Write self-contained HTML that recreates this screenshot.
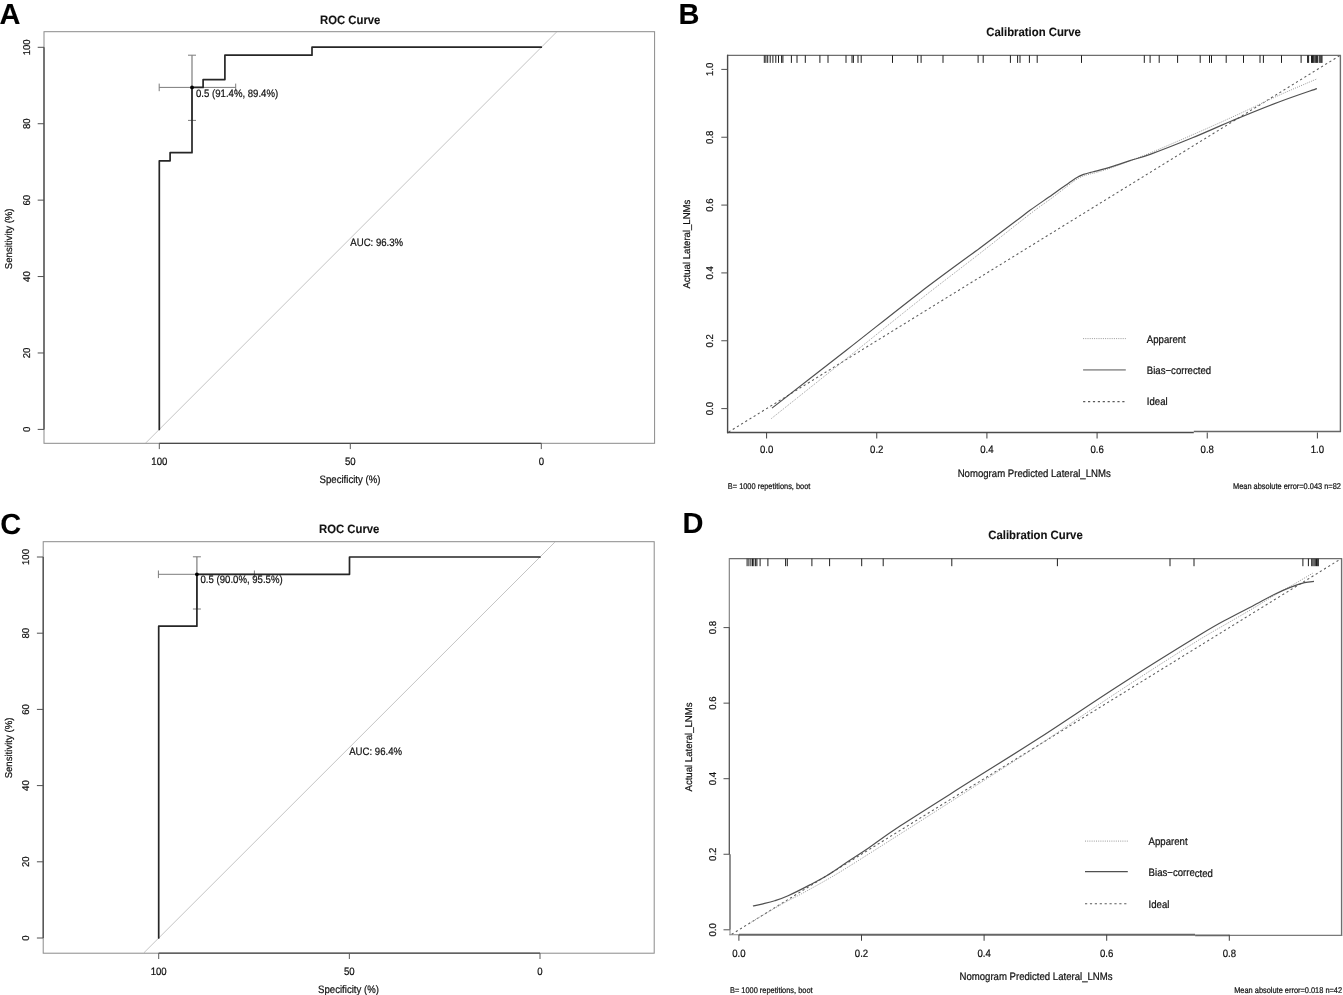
<!DOCTYPE html><html><head><meta charset="utf-8"><title>ROC and Calibration Curves</title>
<style>html,body{margin:0;padding:0;background:#fff;width:1343px;height:995px;overflow:hidden}svg{display:block;font-family:"Liberation Sans", sans-serif;text-rendering:geometricPrecision;filter:grayscale(1)}</style></head><body>
<svg width="1343" height="995" viewBox="0 0 1343 995">
<rect width="1343" height="995" fill="#fff"/>
<line x1="145.9" y1="442.8" x2="556.4" y2="32.2" stroke="#c4c4c4" stroke-width="1"/>
<rect x="44" y="31.7" width="610.6" height="411.6" fill="none" stroke="#8a8a8a" stroke-width="1"/>
<line x1="159.3" y1="443.3" x2="541.3" y2="443.3" stroke="#4a4a4a" stroke-width="1.3" />
<line x1="44" y1="429.4" x2="44" y2="47.3" stroke="#4a4a4a" stroke-width="1.3" />
<line x1="37.7" y1="429.4" x2="44" y2="429.4" stroke="#505050" stroke-width="1" />
<text font-size="9.89" text-anchor="middle" font-weight="normal" fill="#111" stroke="#111" stroke-width="0.22" transform="translate(29.71 429.4) rotate(-90) scale(0.9709 1)" >0</text>
<line x1="37.7" y1="352.98" x2="44" y2="352.98" stroke="#505050" stroke-width="1" />
<text font-size="9.89" text-anchor="middle" font-weight="normal" fill="#111" stroke="#111" stroke-width="0.22" transform="translate(29.71 352.98) rotate(-90) scale(0.9709 1)" >20</text>
<line x1="37.7" y1="276.56" x2="44" y2="276.56" stroke="#505050" stroke-width="1" />
<text font-size="9.89" text-anchor="middle" font-weight="normal" fill="#111" stroke="#111" stroke-width="0.22" transform="translate(29.71 276.56) rotate(-90) scale(0.9709 1)" >40</text>
<line x1="37.7" y1="200.14" x2="44" y2="200.14" stroke="#505050" stroke-width="1" />
<text font-size="9.89" text-anchor="middle" font-weight="normal" fill="#111" stroke="#111" stroke-width="0.22" transform="translate(29.71 200.14) rotate(-90) scale(0.9709 1)" >60</text>
<line x1="37.7" y1="123.72" x2="44" y2="123.72" stroke="#505050" stroke-width="1" />
<text font-size="9.89" text-anchor="middle" font-weight="normal" fill="#111" stroke="#111" stroke-width="0.22" transform="translate(29.71 123.72) rotate(-90) scale(0.9709 1)" >80</text>
<line x1="37.7" y1="47.3" x2="44" y2="47.3" stroke="#505050" stroke-width="1" />
<text font-size="9.89" text-anchor="middle" font-weight="normal" fill="#111" stroke="#111" stroke-width="0.22" transform="translate(29.71 47.3) rotate(-90) scale(0.9709 1)" >100</text>
<line x1="159.3" y1="443.3" x2="159.3" y2="449.1" stroke="#5a5a5a" stroke-width="1" />
<text font-size="10.75" text-anchor="middle" font-weight="normal" fill="#111" stroke="#111" stroke-width="0.22" transform="translate(159.3 464.5) scale(0.8929 1)" >100</text>
<line x1="350.3" y1="443.3" x2="350.3" y2="449.1" stroke="#5a5a5a" stroke-width="1" />
<text font-size="10.75" text-anchor="middle" font-weight="normal" fill="#111" stroke="#111" stroke-width="0.22" transform="translate(350.3 464.5) scale(0.8929 1)" >50</text>
<line x1="541.3" y1="443.3" x2="541.3" y2="449.1" stroke="#5a5a5a" stroke-width="1" />
<text font-size="10.75" text-anchor="middle" font-weight="normal" fill="#111" stroke="#111" stroke-width="0.22" transform="translate(541.3 464.5) scale(0.8929 1)" >0</text>
<text font-size="10.75" text-anchor="middle" font-weight="normal" fill="#111" stroke="#111" stroke-width="0.22" transform="translate(350 483.2) scale(0.8929 1)" >Specificity (%)</text>
<text font-size="9.89" text-anchor="middle" font-weight="normal" fill="#111" stroke="#111" stroke-width="0.22" transform="translate(12.4 238.8) rotate(-90) scale(0.9709 1)" >Sensitivity (%)</text>
<text font-size="12.14" text-anchor="middle" font-weight="bold" fill="#111" stroke="#111" stroke-width="0.1" transform="translate(350.2 23.7) scale(0.9346 1)" >ROC Curve</text>
<text font-size="10.75" text-anchor="start" font-weight="normal" fill="#111" stroke="#111" stroke-width="0.22" transform="translate(350.3 245.6) scale(0.8929 1)" >AUC: 96.3%</text>
<line x1="159.2" y1="87.4" x2="235.7" y2="87.4" stroke="#7c7c7c" stroke-width="1" />
<line x1="159.2" y1="83.6" x2="159.2" y2="91.2" stroke="#7c7c7c" stroke-width="1" />
<line x1="235.7" y1="83.6" x2="235.7" y2="91.2" stroke="#7c7c7c" stroke-width="1" />
<line x1="192" y1="55.2" x2="192" y2="120.4" stroke="#7c7c7c" stroke-width="1.2" />
<line x1="188" y1="55.2" x2="196" y2="55.2" stroke="#7c7c7c" stroke-width="1" />
<line x1="188" y1="120.4" x2="196" y2="120.4" stroke="#7c7c7c" stroke-width="1" />
<polyline points="159.3,429.4 159.3,160.8 170.1,160.8 170.1,152.7 192,152.7 192,87.4 203.1,87.4 203.1,79.6 224.9,79.6 224.9,55.2 312,55.2 312,47.2 541.3,47.2" fill="none" stroke="#262626" stroke-width="1.7" stroke-linejoin="round" stroke-linecap="round"/>
<circle cx="192" cy="87.4" r="1.9" fill="#000"/>
<text font-size="10.75" text-anchor="start" font-weight="normal" fill="#111" stroke="#111" stroke-width="0.22" transform="translate(196 96.7) scale(0.8929 1)" >0.5 (91.4%, 89.4%)</text>
<line x1="143.99" y1="952.7" x2="554.81" y2="542.2" stroke="#c4c4c4" stroke-width="1"/>
<rect x="43.2" y="541.7" width="611" height="411.5" fill="none" stroke="#8a8a8a" stroke-width="1"/>
<line x1="158.7" y1="953.2" x2="540" y2="953.2" stroke="#4a4a4a" stroke-width="1.3" />
<line x1="43.2" y1="938" x2="43.2" y2="557" stroke="#4a4a4a" stroke-width="1.3" />
<line x1="36.9" y1="938" x2="43.2" y2="938" stroke="#505050" stroke-width="1" />
<text font-size="9.89" text-anchor="middle" font-weight="normal" fill="#111" stroke="#111" stroke-width="0.22" transform="translate(28.81 938) rotate(-90) scale(0.9709 1)" >0</text>
<line x1="36.9" y1="861.8" x2="43.2" y2="861.8" stroke="#505050" stroke-width="1" />
<text font-size="9.89" text-anchor="middle" font-weight="normal" fill="#111" stroke="#111" stroke-width="0.22" transform="translate(28.81 861.8) rotate(-90) scale(0.9709 1)" >20</text>
<line x1="36.9" y1="785.6" x2="43.2" y2="785.6" stroke="#505050" stroke-width="1" />
<text font-size="9.89" text-anchor="middle" font-weight="normal" fill="#111" stroke="#111" stroke-width="0.22" transform="translate(28.81 785.6) rotate(-90) scale(0.9709 1)" >40</text>
<line x1="36.9" y1="709.4" x2="43.2" y2="709.4" stroke="#505050" stroke-width="1" />
<text font-size="9.89" text-anchor="middle" font-weight="normal" fill="#111" stroke="#111" stroke-width="0.22" transform="translate(28.81 709.4) rotate(-90) scale(0.9709 1)" >60</text>
<line x1="36.9" y1="633.2" x2="43.2" y2="633.2" stroke="#505050" stroke-width="1" />
<text font-size="9.89" text-anchor="middle" font-weight="normal" fill="#111" stroke="#111" stroke-width="0.22" transform="translate(28.81 633.2) rotate(-90) scale(0.9709 1)" >80</text>
<line x1="36.9" y1="557" x2="43.2" y2="557" stroke="#505050" stroke-width="1" />
<text font-size="9.89" text-anchor="middle" font-weight="normal" fill="#111" stroke="#111" stroke-width="0.22" transform="translate(28.81 557) rotate(-90) scale(0.9709 1)" >100</text>
<line x1="158.7" y1="953.2" x2="158.7" y2="959" stroke="#5a5a5a" stroke-width="1" />
<text font-size="10.75" text-anchor="middle" font-weight="normal" fill="#111" stroke="#111" stroke-width="0.22" transform="translate(158.7 974.7) scale(0.8929 1)" >100</text>
<line x1="349.35" y1="953.2" x2="349.35" y2="959" stroke="#5a5a5a" stroke-width="1" />
<text font-size="10.75" text-anchor="middle" font-weight="normal" fill="#111" stroke="#111" stroke-width="0.22" transform="translate(349.35 974.7) scale(0.8929 1)" >50</text>
<line x1="540" y1="953.2" x2="540" y2="959" stroke="#5a5a5a" stroke-width="1" />
<text font-size="10.75" text-anchor="middle" font-weight="normal" fill="#111" stroke="#111" stroke-width="0.22" transform="translate(540 974.7) scale(0.8929 1)" >0</text>
<text font-size="10.75" text-anchor="middle" font-weight="normal" fill="#111" stroke="#111" stroke-width="0.22" transform="translate(348.5 993.3) scale(0.8929 1)" >Specificity (%)</text>
<text font-size="9.89" text-anchor="middle" font-weight="normal" fill="#111" stroke="#111" stroke-width="0.22" transform="translate(11.6 748) rotate(-90) scale(0.9709 1)" >Sensitivity (%)</text>
<text font-size="12.14" text-anchor="middle" font-weight="bold" fill="#111" stroke="#111" stroke-width="0.1" transform="translate(349.2 533.4) scale(0.9346 1)" >ROC Curve</text>
<text font-size="10.75" text-anchor="start" font-weight="normal" fill="#111" stroke="#111" stroke-width="0.22" transform="translate(349.2 754.8) scale(0.8929 1)" >AUC: 96.4%</text>
<line x1="158.4" y1="574.3" x2="254.4" y2="574.3" stroke="#7c7c7c" stroke-width="1" />
<line x1="158.4" y1="570.5" x2="158.4" y2="578.1" stroke="#7c7c7c" stroke-width="1" />
<line x1="254.4" y1="570.5" x2="254.4" y2="578.1" stroke="#7c7c7c" stroke-width="1" />
<line x1="196.9" y1="556.8" x2="196.9" y2="609" stroke="#7c7c7c" stroke-width="1.2" />
<line x1="192.9" y1="556.8" x2="200.9" y2="556.8" stroke="#7c7c7c" stroke-width="1" />
<line x1="192.9" y1="609" x2="200.9" y2="609" stroke="#7c7c7c" stroke-width="1" />
<polyline points="158.7,938 158.7,626.2 196.9,626.2 196.9,574.3 349.5,574.3 349.5,557 540,557" fill="none" stroke="#262626" stroke-width="1.7" stroke-linejoin="round" stroke-linecap="round"/>
<circle cx="196.9" cy="574.3" r="1.9" fill="#000"/>
<text font-size="10.75" text-anchor="start" font-weight="normal" fill="#111" stroke="#111" stroke-width="0.22" transform="translate(200.5 583.3) scale(0.8929 1)" >0.5 (90.0%, 95.5%)</text>
<line x1="727.1" y1="55.3" x2="1340.9" y2="55.3" stroke="#6e6e6e" stroke-width="1.2" />
<line x1="1340.4" y1="55.3" x2="1340.4" y2="432.1" stroke="#6e6e6e" stroke-width="1.4" />
<line x1="727.6" y1="54.8" x2="727.6" y2="433.2" stroke="#4a4a4a" stroke-width="1.4" />
<line x1="727" y1="432.6" x2="1193.8" y2="432.6" stroke="#4a4a4a" stroke-width="1.5" />
<line x1="1193.8" y1="431.6" x2="1341" y2="431.6" stroke="#666" stroke-width="1.5" />
<line x1="721.3" y1="408.6" x2="727.6" y2="408.6" stroke="#505050" stroke-width="1" />
<text font-size="9.89" text-anchor="middle" font-weight="normal" fill="#111" stroke="#111" stroke-width="0.22" transform="translate(713.41 408.6) rotate(-90) scale(0.9709 1)" >0.0</text>
<line x1="721.3" y1="340.76" x2="727.6" y2="340.76" stroke="#505050" stroke-width="1" />
<text font-size="9.89" text-anchor="middle" font-weight="normal" fill="#111" stroke="#111" stroke-width="0.22" transform="translate(713.41 340.76) rotate(-90) scale(0.9709 1)" >0.2</text>
<line x1="721.3" y1="272.92" x2="727.6" y2="272.92" stroke="#505050" stroke-width="1" />
<text font-size="9.89" text-anchor="middle" font-weight="normal" fill="#111" stroke="#111" stroke-width="0.22" transform="translate(713.41 272.92) rotate(-90) scale(0.9709 1)" >0.4</text>
<line x1="721.3" y1="205.08" x2="727.6" y2="205.08" stroke="#505050" stroke-width="1" />
<text font-size="9.89" text-anchor="middle" font-weight="normal" fill="#111" stroke="#111" stroke-width="0.22" transform="translate(713.41 205.08) rotate(-90) scale(0.9709 1)" >0.6</text>
<line x1="721.3" y1="137.24" x2="727.6" y2="137.24" stroke="#505050" stroke-width="1" />
<text font-size="9.89" text-anchor="middle" font-weight="normal" fill="#111" stroke="#111" stroke-width="0.22" transform="translate(713.41 137.24) rotate(-90) scale(0.9709 1)" >0.8</text>
<line x1="721.3" y1="69.4" x2="727.6" y2="69.4" stroke="#505050" stroke-width="1" />
<text font-size="9.89" text-anchor="middle" font-weight="normal" fill="#111" stroke="#111" stroke-width="0.22" transform="translate(713.41 69.4) rotate(-90) scale(0.9709 1)" >1.0</text>
<line x1="766.6" y1="432.5" x2="766.6" y2="438.5" stroke="#404040" stroke-width="1" />
<text font-size="10.75" text-anchor="middle" font-weight="normal" fill="#111" stroke="#111" stroke-width="0.22" transform="translate(766.6 453) scale(0.8929 1)" >0.0</text>
<line x1="876.76" y1="432.5" x2="876.76" y2="438.5" stroke="#404040" stroke-width="1" />
<text font-size="10.75" text-anchor="middle" font-weight="normal" fill="#111" stroke="#111" stroke-width="0.22" transform="translate(876.76 453) scale(0.8929 1)" >0.2</text>
<line x1="986.92" y1="432.5" x2="986.92" y2="438.5" stroke="#404040" stroke-width="1" />
<text font-size="10.75" text-anchor="middle" font-weight="normal" fill="#111" stroke="#111" stroke-width="0.22" transform="translate(986.92 453) scale(0.8929 1)" >0.4</text>
<line x1="1097.08" y1="432.5" x2="1097.08" y2="438.5" stroke="#404040" stroke-width="1" />
<text font-size="10.75" text-anchor="middle" font-weight="normal" fill="#111" stroke="#111" stroke-width="0.22" transform="translate(1097.08 453) scale(0.8929 1)" >0.6</text>
<line x1="1207.24" y1="432.5" x2="1207.24" y2="438.5" stroke="#404040" stroke-width="1" />
<text font-size="10.75" text-anchor="middle" font-weight="normal" fill="#111" stroke="#111" stroke-width="0.22" transform="translate(1207.24 453) scale(0.8929 1)" >0.8</text>
<line x1="1317.4" y1="432.5" x2="1317.4" y2="438.5" stroke="#404040" stroke-width="1" />
<text font-size="10.75" text-anchor="middle" font-weight="normal" fill="#111" stroke="#111" stroke-width="0.22" transform="translate(1317.4 453) scale(0.8929 1)" >1.0</text>
<text font-size="10.75" text-anchor="middle" font-weight="normal" fill="#111" stroke="#111" stroke-width="0.22" transform="translate(1034.2 476.6) scale(0.8929 1)" >Nomogram Predicted Lateral_LNMs</text>
<text font-size="9.89" text-anchor="middle" font-weight="normal" fill="#111" stroke="#111" stroke-width="0.22" transform="translate(689.6 244.1) rotate(-90) scale(0.9709 1)" >Actual Lateral_LNMs</text>
<text font-size="12.14" text-anchor="middle" font-weight="bold" fill="#111" stroke="#111" stroke-width="0.1" transform="translate(1033.6 35.5) scale(0.9346 1)" >Calibration Curve</text>
<text font-size="8.31" text-anchor="start" font-weight="normal" fill="#111" stroke="#111" stroke-width="0.22" transform="translate(727.8 488.5) scale(0.8929 1)" >B= 1000 repetitions, boot</text>
<text font-size="8.31" text-anchor="end" font-weight="normal" fill="#111" stroke="#111" stroke-width="0.22" transform="translate(1340.9 488.5) scale(0.8929 1)" >Mean absolute error=0.043 n=82</text>
<line x1="764.3" y1="55.3" x2="764.3" y2="62.9" stroke="#1e1e1e" stroke-width="1.0" />
<line x1="765.9" y1="55.3" x2="765.9" y2="62.9" stroke="#1e1e1e" stroke-width="1.0" />
<line x1="767.7" y1="55.3" x2="767.7" y2="62.9" stroke="#1e1e1e" stroke-width="1.0" />
<line x1="770.2" y1="55.3" x2="770.2" y2="62.9" stroke="#1e1e1e" stroke-width="1.0" />
<line x1="772.9" y1="55.3" x2="772.9" y2="62.9" stroke="#1e1e1e" stroke-width="1.0" />
<line x1="775.8" y1="55.3" x2="775.8" y2="62.9" stroke="#1e1e1e" stroke-width="1.0" />
<line x1="778.5" y1="55.3" x2="778.5" y2="62.9" stroke="#1e1e1e" stroke-width="1.0" />
<line x1="781.6" y1="55.3" x2="781.6" y2="62.9" stroke="#1e1e1e" stroke-width="1.0" />
<line x1="782.9" y1="55.3" x2="782.9" y2="62.9" stroke="#1e1e1e" stroke-width="1.0" />
<line x1="791.4" y1="55.3" x2="791.4" y2="62.9" stroke="#1e1e1e" stroke-width="1.0" />
<line x1="797" y1="55.3" x2="797" y2="62.9" stroke="#1e1e1e" stroke-width="1.0" />
<line x1="805.3" y1="55.3" x2="805.3" y2="62.9" stroke="#1e1e1e" stroke-width="1.0" />
<line x1="819.9" y1="55.3" x2="819.9" y2="62.9" stroke="#1e1e1e" stroke-width="1.0" />
<line x1="828" y1="55.3" x2="828" y2="62.9" stroke="#1e1e1e" stroke-width="1.0" />
<line x1="846" y1="55.3" x2="846" y2="62.9" stroke="#1e1e1e" stroke-width="1.0" />
<line x1="852" y1="55.3" x2="852" y2="62.9" stroke="#1e1e1e" stroke-width="1.0" />
<line x1="853.4" y1="55.3" x2="853.4" y2="62.9" stroke="#1e1e1e" stroke-width="1.0" />
<line x1="858" y1="55.3" x2="858" y2="62.9" stroke="#1e1e1e" stroke-width="1.0" />
<line x1="861.2" y1="55.3" x2="861.2" y2="62.9" stroke="#1e1e1e" stroke-width="1.0" />
<line x1="892.5" y1="55.3" x2="892.5" y2="62.9" stroke="#1e1e1e" stroke-width="1.0" />
<line x1="917.7" y1="55.3" x2="917.7" y2="62.9" stroke="#1e1e1e" stroke-width="1.0" />
<line x1="921.1" y1="55.3" x2="921.1" y2="62.9" stroke="#1e1e1e" stroke-width="1.0" />
<line x1="943" y1="55.3" x2="943" y2="62.9" stroke="#1e1e1e" stroke-width="1.0" />
<line x1="978.1" y1="55.3" x2="978.1" y2="62.9" stroke="#1e1e1e" stroke-width="1.0" />
<line x1="983.2" y1="55.3" x2="983.2" y2="62.9" stroke="#1e1e1e" stroke-width="1.0" />
<line x1="1010.4" y1="55.3" x2="1010.4" y2="62.9" stroke="#1e1e1e" stroke-width="1.0" />
<line x1="1017.6" y1="55.3" x2="1017.6" y2="62.9" stroke="#1e1e1e" stroke-width="1.0" />
<line x1="1020" y1="55.3" x2="1020" y2="62.9" stroke="#1e1e1e" stroke-width="1.0" />
<line x1="1029.4" y1="55.3" x2="1029.4" y2="62.9" stroke="#1e1e1e" stroke-width="1.0" />
<line x1="1037.2" y1="55.3" x2="1037.2" y2="62.9" stroke="#1e1e1e" stroke-width="1.0" />
<line x1="1081.5" y1="55.3" x2="1081.5" y2="62.9" stroke="#1e1e1e" stroke-width="1.0" />
<line x1="1144.3" y1="55.3" x2="1144.3" y2="62.9" stroke="#1e1e1e" stroke-width="1.0" />
<line x1="1150.1" y1="55.3" x2="1150.1" y2="62.9" stroke="#1e1e1e" stroke-width="1.0" />
<line x1="1159.2" y1="55.3" x2="1159.2" y2="62.9" stroke="#1e1e1e" stroke-width="1.0" />
<line x1="1177.6" y1="55.3" x2="1177.6" y2="62.9" stroke="#1e1e1e" stroke-width="1.0" />
<line x1="1200.2" y1="55.3" x2="1200.2" y2="62.9" stroke="#1e1e1e" stroke-width="1.0" />
<line x1="1209.5" y1="55.3" x2="1209.5" y2="62.9" stroke="#1e1e1e" stroke-width="1.0" />
<line x1="1211.5" y1="55.3" x2="1211.5" y2="62.9" stroke="#1e1e1e" stroke-width="1.0" />
<line x1="1226.2" y1="55.3" x2="1226.2" y2="62.9" stroke="#1e1e1e" stroke-width="1.0" />
<line x1="1243.5" y1="55.3" x2="1243.5" y2="62.9" stroke="#1e1e1e" stroke-width="1.0" />
<line x1="1260" y1="55.3" x2="1260" y2="62.9" stroke="#1e1e1e" stroke-width="1.0" />
<line x1="1263.4" y1="55.3" x2="1263.4" y2="62.9" stroke="#1e1e1e" stroke-width="1.0" />
<line x1="1281.5" y1="55.3" x2="1281.5" y2="62.9" stroke="#1e1e1e" stroke-width="1.0" />
<line x1="1301.1" y1="55.3" x2="1301.1" y2="62.9" stroke="#1e1e1e" stroke-width="1.0" />
<line x1="1307.6" y1="55.3" x2="1307.6" y2="62.9" stroke="#1e1e1e" stroke-width="1.0" />
<line x1="1308.6" y1="55.3" x2="1308.6" y2="62.9" stroke="#1e1e1e" stroke-width="1.0" />
<line x1="1311.5" y1="55.3" x2="1311.5" y2="62.9" stroke="#1e1e1e" stroke-width="1.0" />
<line x1="1312.5" y1="55.3" x2="1312.5" y2="62.9" stroke="#1e1e1e" stroke-width="1.0" />
<line x1="1313.3" y1="55.3" x2="1313.3" y2="62.9" stroke="#1e1e1e" stroke-width="1.0" />
<line x1="1314.2" y1="55.3" x2="1314.2" y2="62.9" stroke="#1e1e1e" stroke-width="1.0" />
<line x1="1315.7" y1="55.3" x2="1315.7" y2="62.9" stroke="#1e1e1e" stroke-width="1.0" />
<line x1="1316.6" y1="55.3" x2="1316.6" y2="62.9" stroke="#1e1e1e" stroke-width="1.0" />
<line x1="1317.4" y1="55.3" x2="1317.4" y2="62.9" stroke="#1e1e1e" stroke-width="1.0" />
<line x1="1319.2" y1="55.3" x2="1319.2" y2="62.9" stroke="#1e1e1e" stroke-width="1.0" />
<line x1="1320.2" y1="55.3" x2="1320.2" y2="62.9" stroke="#1e1e1e" stroke-width="1.0" />
<line x1="1321.2" y1="55.3" x2="1321.2" y2="62.9" stroke="#1e1e1e" stroke-width="1.0" />
<line x1="1322" y1="55.3" x2="1322" y2="62.9" stroke="#1e1e1e" stroke-width="1.0" />
<line x1="728.6" y1="432" x2="1339.48" y2="55.8" stroke="#5a5a5a" stroke-width="1.05" stroke-dasharray="2.2 2.7"/>
<path d="M771.3,418.6 C783.75,408.67 821.22,378.82 846,359 C870.78,339.18 897.67,317.32 920,299.7 C942.33,282.08 961.67,267.58 980,253.3 C998.33,239.02 1017.95,223.27 1030,214 C1042.05,204.73 1045.35,202.9 1052.3,197.7 C1059.25,192.5 1067.25,186.08 1071.7,182.8 C1076.15,179.52 1077.02,179.15 1079,178 C1080.98,176.85 1081.77,176.57 1083.6,175.9 C1085.43,175.23 1087.77,174.6 1090,174 C1092.23,173.4 1093.35,173.37 1097,172.3 C1100.65,171.23 1106.4,169.52 1111.9,167.6 C1117.4,165.68 1123.52,163.28 1130,160.8 C1136.48,158.32 1140.38,157.03 1150.8,152.7 C1161.22,148.37 1178.6,140.88 1192.5,134.8 C1206.4,128.72 1219.8,122.78 1234.2,116.2 C1248.6,109.62 1265.12,101.52 1278.9,95.3 C1292.68,89.08 1310.57,81.63 1316.9,78.9" fill="none" stroke="#9a9a9a" stroke-width="1.0" stroke-dasharray="1 1.2"/>
<path d="M772,408.1 C784.33,398.5 821.33,369.78 846,350.5 C870.67,331.22 897.67,309.5 920,292.4 C942.33,275.3 963.97,259.83 980,247.9 C996.03,235.97 1007.87,227.07 1016.2,220.8 C1024.53,214.53 1023.98,214.65 1030,210.3 C1036.02,205.95 1045.35,199.6 1052.3,194.7 C1059.25,189.8 1067.25,183.95 1071.7,180.9 C1076.15,177.85 1077.02,177.48 1079,176.4 C1080.98,175.32 1081.77,175.03 1083.6,174.4 C1085.43,173.77 1087.77,173.18 1090,172.6 C1092.23,172.02 1093.35,171.9 1097,170.9 C1100.65,169.9 1106.4,168.32 1111.9,166.6 C1117.4,164.88 1123.52,162.68 1130,160.6 C1136.48,158.52 1140.38,157.9 1150.8,154.1 C1161.22,150.3 1178.6,143.5 1192.5,137.8 C1206.4,132.1 1219.8,125.87 1234.2,119.9 C1248.6,113.93 1265.12,107.22 1278.9,102 C1292.68,96.78 1310.57,90.83 1316.9,88.6" fill="none" stroke="#505050" stroke-width="1.2" />
<line x1="1083.1" y1="338.6" x2="1125.8" y2="338.6" stroke="#9a9a9a" stroke-width="1.0" stroke-dasharray="1 1.2"/>
<line x1="1083.1" y1="369.9" x2="1125.8" y2="369.9" stroke="#9d9d9d" stroke-width="1.6" />
<line x1="1083.1" y1="401.6" x2="1125.8" y2="401.6" stroke="#5a5a5a" stroke-width="1.05" stroke-dasharray="2.2 2.7"/>
<text font-size="10.75" text-anchor="start" font-weight="normal" fill="#111" stroke="#111" stroke-width="0.22" transform="translate(1146.8 342.71) scale(0.8929 1)" >Apparent</text>
<text font-size="10.75" text-anchor="start" font-weight="normal" fill="#111" stroke="#111" stroke-width="0.22" transform="translate(1146.8 374.01) scale(0.8929 1)" >Bias−corre<tspan dy="-0.5">cted</tspan></text>
<text font-size="10.75" text-anchor="start" font-weight="normal" fill="#111" stroke="#111" stroke-width="0.22" transform="translate(1146.8 405.41) scale(0.8929 1)" >Ideal</text>
<line x1="729.3" y1="558.6" x2="1342.1" y2="558.6" stroke="#6e6e6e" stroke-width="1.2" />
<line x1="1341.6" y1="558.6" x2="1341.6" y2="935.9" stroke="#6e6e6e" stroke-width="1.4" />
<line x1="729.3" y1="558.1" x2="729.3" y2="627.6" stroke="#7a7a7a" stroke-width="1.1" />
<line x1="729.3" y1="627.6" x2="729.3" y2="854.3" stroke="#555" stroke-width="1.3" />
<line x1="730" y1="854.3" x2="730" y2="929.8" stroke="#555" stroke-width="1.3" />
<line x1="730" y1="929.8" x2="730" y2="935.2" stroke="#8a8a8a" stroke-width="1.0" />
<line x1="729.3" y1="934.75" x2="738.9" y2="934.75" stroke="#8a8a8a" stroke-width="1.0" />
<line x1="738.9" y1="934.8" x2="1195.1" y2="934.8" stroke="#666" stroke-width="1.9" />
<line x1="1195.1" y1="935.4" x2="1229.3" y2="935.4" stroke="#666" stroke-width="1.9" />
<line x1="1229.3" y1="935.4" x2="1342.1" y2="935.4" stroke="#7a7a7a" stroke-width="1.2" />
<line x1="723.5" y1="929.8" x2="729.8" y2="929.8" stroke="#505050" stroke-width="1" />
<text font-size="9.89" text-anchor="middle" font-weight="normal" fill="#111" stroke="#111" stroke-width="0.22" transform="translate(715.51 929.8) rotate(-90) scale(0.9709 1)" >0.0</text>
<line x1="723.5" y1="854.25" x2="729.8" y2="854.25" stroke="#505050" stroke-width="1" />
<text font-size="9.89" text-anchor="middle" font-weight="normal" fill="#111" stroke="#111" stroke-width="0.22" transform="translate(715.51 854.25) rotate(-90) scale(0.9709 1)" >0.2</text>
<line x1="723.5" y1="778.7" x2="729.8" y2="778.7" stroke="#505050" stroke-width="1" />
<text font-size="9.89" text-anchor="middle" font-weight="normal" fill="#111" stroke="#111" stroke-width="0.22" transform="translate(715.51 778.7) rotate(-90) scale(0.9709 1)" >0.4</text>
<line x1="723.5" y1="703.15" x2="729.8" y2="703.15" stroke="#505050" stroke-width="1" />
<text font-size="9.89" text-anchor="middle" font-weight="normal" fill="#111" stroke="#111" stroke-width="0.22" transform="translate(715.51 703.15) rotate(-90) scale(0.9709 1)" >0.6</text>
<line x1="723.5" y1="627.6" x2="729.8" y2="627.6" stroke="#505050" stroke-width="1" />
<text font-size="9.89" text-anchor="middle" font-weight="normal" fill="#111" stroke="#111" stroke-width="0.22" transform="translate(715.51 627.6) rotate(-90) scale(0.9709 1)" >0.8</text>
<line x1="738.9" y1="934.75" x2="738.9" y2="940.75" stroke="#404040" stroke-width="1" />
<text font-size="10.75" text-anchor="middle" font-weight="normal" fill="#111" stroke="#111" stroke-width="0.22" transform="translate(738.9 956.5) scale(0.8929 1)" >0.0</text>
<line x1="861.5" y1="934.75" x2="861.5" y2="940.75" stroke="#404040" stroke-width="1" />
<text font-size="10.75" text-anchor="middle" font-weight="normal" fill="#111" stroke="#111" stroke-width="0.22" transform="translate(861.5 956.5) scale(0.8929 1)" >0.2</text>
<line x1="984.1" y1="934.75" x2="984.1" y2="940.75" stroke="#404040" stroke-width="1" />
<text font-size="10.75" text-anchor="middle" font-weight="normal" fill="#111" stroke="#111" stroke-width="0.22" transform="translate(984.1 956.5) scale(0.8929 1)" >0.4</text>
<line x1="1106.7" y1="934.75" x2="1106.7" y2="940.75" stroke="#404040" stroke-width="1" />
<text font-size="10.75" text-anchor="middle" font-weight="normal" fill="#111" stroke="#111" stroke-width="0.22" transform="translate(1106.7 956.5) scale(0.8929 1)" >0.6</text>
<line x1="1229.3" y1="934.75" x2="1229.3" y2="940.75" stroke="#404040" stroke-width="1" />
<text font-size="10.75" text-anchor="middle" font-weight="normal" fill="#111" stroke="#111" stroke-width="0.22" transform="translate(1229.3 956.5) scale(0.8929 1)" >0.8</text>
<text font-size="10.75" text-anchor="middle" font-weight="normal" fill="#111" stroke="#111" stroke-width="0.22" transform="translate(1036 979.8) scale(0.8929 1)" >Nomogram Predicted Lateral_LNMs</text>
<text font-size="9.89" text-anchor="middle" font-weight="normal" fill="#111" stroke="#111" stroke-width="0.22" transform="translate(691.6 747) rotate(-90) scale(0.9709 1)" >Actual Lateral_LNMs</text>
<text font-size="12.14" text-anchor="middle" font-weight="bold" fill="#111" stroke="#111" stroke-width="0.1" transform="translate(1035.5 539.1) scale(0.9346 1)" >Calibration Curve</text>
<text font-size="8.31" text-anchor="start" font-weight="normal" fill="#111" stroke="#111" stroke-width="0.22" transform="translate(730 992.5) scale(0.8929 1)" >B= 1000 repetitions, boot</text>
<text font-size="8.31" text-anchor="end" font-weight="normal" fill="#111" stroke="#111" stroke-width="0.22" transform="translate(1342.1 992.5) scale(0.8929 1)" >Mean absolute error=0.018 n=42</text>
<line x1="747.1" y1="558.6" x2="747.1" y2="566.2" stroke="#1e1e1e" stroke-width="1.0" />
<line x1="748.9" y1="558.6" x2="748.9" y2="566.2" stroke="#1e1e1e" stroke-width="1.0" />
<line x1="750.9" y1="558.6" x2="750.9" y2="566.2" stroke="#1e1e1e" stroke-width="1.0" />
<line x1="752.5" y1="558.6" x2="752.5" y2="566.2" stroke="#1e1e1e" stroke-width="1.0" />
<line x1="753.8" y1="558.6" x2="753.8" y2="566.2" stroke="#1e1e1e" stroke-width="1.0" />
<line x1="755.6" y1="558.6" x2="755.6" y2="566.2" stroke="#1e1e1e" stroke-width="1.0" />
<line x1="756.9" y1="558.6" x2="756.9" y2="566.2" stroke="#1e1e1e" stroke-width="1.0" />
<line x1="760.1" y1="558.6" x2="760.1" y2="566.2" stroke="#1e1e1e" stroke-width="1.0" />
<line x1="767.9" y1="558.6" x2="767.9" y2="566.2" stroke="#1e1e1e" stroke-width="1.0" />
<line x1="785.6" y1="558.6" x2="785.6" y2="566.2" stroke="#1e1e1e" stroke-width="1.0" />
<line x1="787.3" y1="558.6" x2="787.3" y2="566.2" stroke="#1e1e1e" stroke-width="1.0" />
<line x1="811.9" y1="558.6" x2="811.9" y2="566.2" stroke="#1e1e1e" stroke-width="1.0" />
<line x1="829.6" y1="558.6" x2="829.6" y2="566.2" stroke="#1e1e1e" stroke-width="1.0" />
<line x1="861.7" y1="558.6" x2="861.7" y2="566.2" stroke="#1e1e1e" stroke-width="1.0" />
<line x1="883.2" y1="558.6" x2="883.2" y2="566.2" stroke="#1e1e1e" stroke-width="1.0" />
<line x1="951.8" y1="558.6" x2="951.8" y2="566.2" stroke="#1e1e1e" stroke-width="1.0" />
<line x1="1057.4" y1="558.6" x2="1057.4" y2="566.2" stroke="#1e1e1e" stroke-width="1.0" />
<line x1="1170" y1="558.6" x2="1170" y2="566.2" stroke="#1e1e1e" stroke-width="1.0" />
<line x1="1194" y1="558.6" x2="1194" y2="566.2" stroke="#1e1e1e" stroke-width="1.0" />
<line x1="1302.9" y1="558.6" x2="1302.9" y2="566.2" stroke="#1e1e1e" stroke-width="1.0" />
<line x1="1308.4" y1="558.6" x2="1308.4" y2="566.2" stroke="#1e1e1e" stroke-width="1.0" />
<line x1="1311.7" y1="558.6" x2="1311.7" y2="566.2" stroke="#1e1e1e" stroke-width="1.0" />
<line x1="1312.9" y1="558.6" x2="1312.9" y2="566.2" stroke="#1e1e1e" stroke-width="1.0" />
<line x1="1314.1" y1="558.6" x2="1314.1" y2="566.2" stroke="#1e1e1e" stroke-width="1.0" />
<line x1="1315.3" y1="558.6" x2="1315.3" y2="566.2" stroke="#1e1e1e" stroke-width="1.0" />
<line x1="1316.5" y1="558.6" x2="1316.5" y2="566.2" stroke="#1e1e1e" stroke-width="1.0" />
<line x1="1317.7" y1="558.6" x2="1317.7" y2="566.2" stroke="#1e1e1e" stroke-width="1.0" />
<line x1="1318.3" y1="558.6" x2="1318.3" y2="566.2" stroke="#1e1e1e" stroke-width="1.0" />
<line x1="731.68" y1="934.25" x2="1340.46" y2="559.1" stroke="#5a5a5a" stroke-width="1.05" stroke-dasharray="2.2 2.7"/>
<path d="M751.4,922.1 C755.33,919.75 768.57,911.73 775,908 C781.43,904.27 785.58,902.07 790,899.7 C794.42,897.33 795.12,897.27 801.5,893.8 C807.88,890.33 820.22,883.57 828.3,878.9 C836.38,874.23 838.05,873.27 850,865.8 C861.95,858.33 880,846.83 900,834.1 C920,821.37 946.67,804.37 970,789.4 C993.33,774.43 1021.67,756.33 1040,744.3 C1058.33,732.27 1066.63,726.18 1080,717.2 C1093.37,708.22 1106.87,699.18 1120.2,690.4 C1133.53,681.62 1146.7,673.02 1160,664.5 C1173.3,655.98 1188.33,646.42 1200,639.3 C1211.67,632.18 1221.28,626.88 1230,621.8 C1238.72,616.72 1244.85,613.23 1252.3,608.8 C1259.75,604.37 1267.87,599.23 1274.7,595.2 C1281.53,591.17 1286.97,588.27 1293.3,584.6 C1299.63,580.93 1309.47,575.1 1312.7,573.2" fill="none" stroke="#9a9a9a" stroke-width="1.0" stroke-dasharray="1 1.2"/>
<path d="M752.9,906 C754.58,905.63 759.37,904.68 763,903.8 C766.63,902.92 770.52,902.05 774.7,900.7 C778.88,899.35 782.15,898.38 788.1,895.7 C794.05,893.02 803.7,888.1 810.4,884.6 C817.1,881.1 822.03,878.55 828.3,874.7 C834.57,870.85 841.28,865.95 848,861.5 C854.72,857.05 859.93,853.92 868.6,848 C877.27,842.08 883.1,837.07 900,826 C916.9,814.93 946.67,796.35 970,781.6 C993.33,766.85 1014.97,753.65 1040,737.5 C1065.03,721.35 1093.53,701.82 1120.2,684.7 C1146.87,667.58 1181.7,645.97 1200,634.8 C1218.3,623.63 1221.28,622.47 1230,617.7 C1238.72,612.93 1244.85,610.1 1252.3,606.2 C1259.75,602.3 1268.48,597.4 1274.7,594.3 C1280.92,591.2 1284.63,589.53 1289.6,587.6 C1294.57,585.67 1300.43,583.73 1304.5,582.7 C1308.57,581.67 1312.42,581.62 1314,581.4" fill="none" stroke="#505050" stroke-width="1.2" />
<line x1="1085" y1="841.1" x2="1127.8" y2="841.1" stroke="#9a9a9a" stroke-width="1.0" stroke-dasharray="1 1.2"/>
<line x1="1085" y1="871.7" x2="1127.8" y2="871.7" stroke="#505050" stroke-width="1.3" />
<line x1="1085" y1="903.7" x2="1127.8" y2="903.7" stroke="#5a5a5a" stroke-width="1.05" stroke-dasharray="2.2 2.7"/>
<text font-size="10.75" text-anchor="start" font-weight="normal" fill="#111" stroke="#111" stroke-width="0.22" transform="translate(1148.6 845.21) scale(0.8929 1)" >Apparent</text>
<text font-size="10.75" text-anchor="start" font-weight="normal" fill="#111" stroke="#111" stroke-width="0.22" transform="translate(1148.6 875.81) scale(0.8929 1)" >Bias−corre<tspan dy="1.3">cted</tspan></text>
<text font-size="10.75" text-anchor="start" font-weight="normal" fill="#111" stroke="#111" stroke-width="0.22" transform="translate(1148.6 907.51) scale(0.8929 1)" >Ideal</text>
<text font-size="29.00" text-anchor="start" font-weight="bold" fill="#000" stroke="#000" stroke-width="0.1" transform="translate(-0.6 23.7) scale(1.0000 1)" >A</text>
<text font-size="29.00" text-anchor="start" font-weight="bold" fill="#000" stroke="#000" stroke-width="0.1" transform="translate(678.5 23.7) scale(1.0000 1)" >B</text>
<text font-size="29.00" text-anchor="start" font-weight="bold" fill="#000" stroke="#000" stroke-width="0.1" transform="translate(0.3 533.5) scale(1.0000 1)" >C</text>
<text font-size="29.00" text-anchor="start" font-weight="bold" fill="#000" stroke="#000" stroke-width="0.1" transform="translate(682.5 533.3) scale(1.0000 1)" >D</text>
</svg></body></html>
